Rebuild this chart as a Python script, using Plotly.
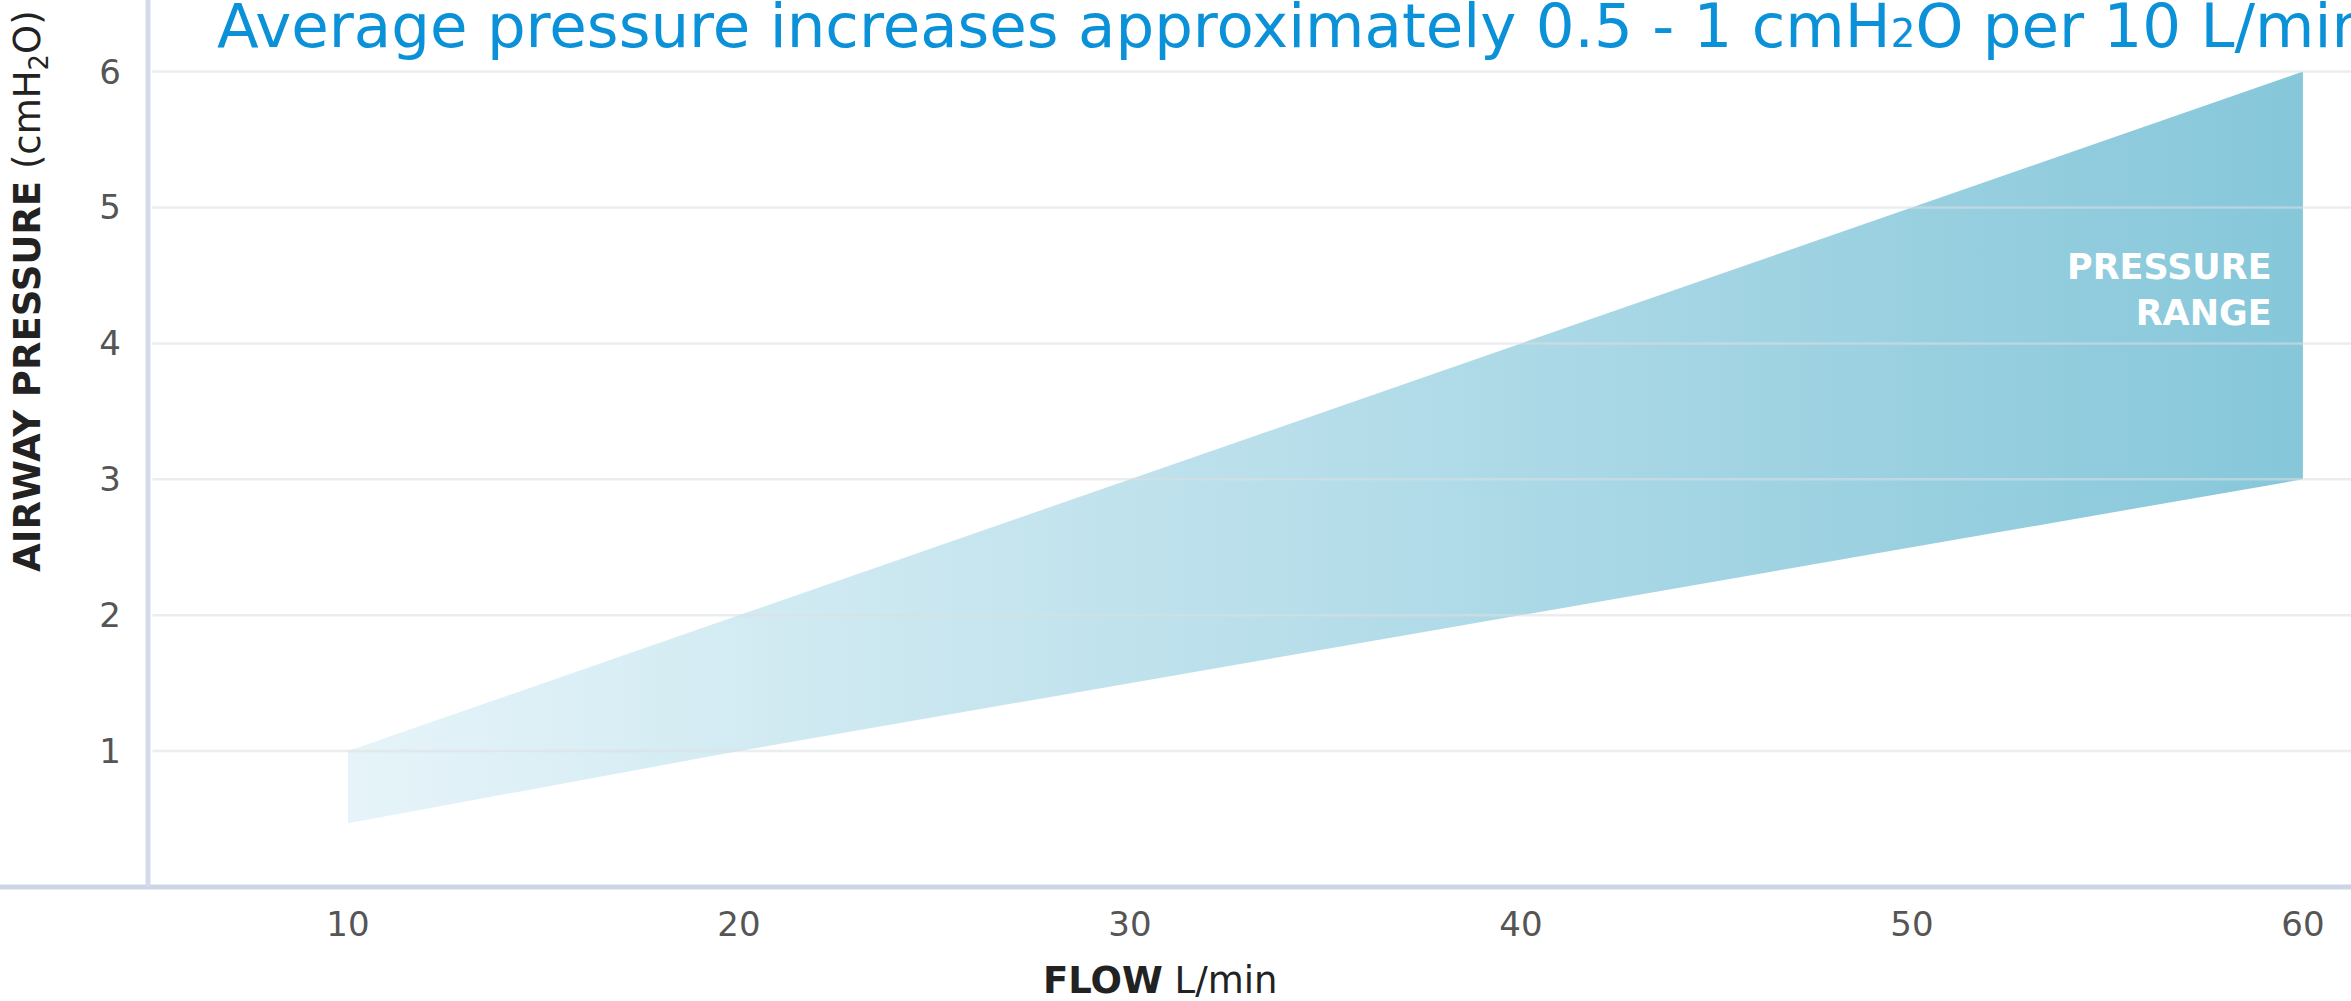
import plotly.graph_objects as go

# Flow rate (L/min) and the airway pressure band (cmH2O) it produces
flow = [10, 20, 30, 40, 50, 60]
pressure_high = [1, 2, 3, 4, 5, 6]
pressure_low = [0.47, 1, 1.5, 2, 2.5, 3]

x_ticks = [10, 20, 30, 40, 50, 60]
y_ticks = [1, 2, 3, 4, 5, 6]

title_text = ("Average pressure increases approximately 0.5 - 1 cmH"
              "<span style='font-size:39px'>2</span>O per 10 L/min")

W, H = 2351, 1001
M_L, M_B = 148, 114

fig = go.Figure()

# Pressure band: upper edge left-to-right, lower edge back right-to-left
fig.add_trace(go.Scatter(
    x=flow + flow[::-1],
    y=pressure_high + pressure_low[::-1],
    mode="lines",
    fill="toself",
    line=dict(width=0),
    fillgradient=dict(type="horizontal",
                      colorscale=[[0, "#e6f4f9"], [1, "#86c7da"]]),
    hoverinfo="skip",
    showlegend=False,
))

# Horizontal guides drawn over the band so they show through it
for v in y_ticks:
    fig.add_shape(type="line", xref="paper", yref="y", x0=0.002, x1=1, y0=v, y1=v,
                  line=dict(color="rgba(220,222,225,0.55)", width=2.5), layer="above")

# Axis lines (the flow axis runs out to the left edge)
fig.add_shape(type="line", xref="paper", yref="paper", x0=-M_L / (W - M_L), x1=1, y0=0, y1=0,
              line=dict(color="#cbd5e6", width=5), layer="above")
fig.add_shape(type="line", xref="paper", yref="paper", x0=0, x1=0, y0=0, y1=1,
              line=dict(color="#d3dae8", width=5), layer="above")

tick_font = dict(family="DejaVu Sans", size=34, color="#555555")

fig.update_xaxes(range=[4.885, 61.23], tickvals=x_ticks, showgrid=False, zeroline=False,
                 showline=False, ticks="", tickfont=tick_font, ticklabelstandoff=14)
fig.update_yaxes(range=[0, 6.527], tickvals=y_ticks, showgrid=False, zeroline=False,
                 showline=False, ticks="", tickfont=tick_font, ticklabelstandoff=26)

fig.add_annotation(text=title_text, xref="paper", yref="paper",
                   x=(215 - M_L) / (W - M_L), y=1.0, xanchor="left", yanchor="top",
                   yshift=12, showarrow=False,
                   font=dict(family="DejaVu Sans", size=61, color="#0a91d8"))

fig.add_annotation(text="<b>AIRWAY PRESSURE</b> (cmH<sub>2</sub>O)", textangle=-90,
                   xref="paper", yref="paper",
                   x=(30 - M_L) / (W - M_L), y=1 - 291 / (H - M_B),
                   xanchor="center", yanchor="middle", showarrow=False,
                   font=dict(family="DejaVu Sans", size=37, color="#222222"))

fig.add_annotation(text="<b>FLOW</b> L/min", xref="paper", yref="paper",
                   x=(1160 - M_L) / (W - M_L), y=(H - M_B - 980) / (H - M_B),
                   xanchor="center", yanchor="middle", showarrow=False,
                   font=dict(family="DejaVu Sans", size=37, color="#222222"))

fig.add_annotation(text="<b>PRESSURE<br>RANGE</b>", x=59.26, y=4.39,
                   xanchor="right", yanchor="middle", align="right", showarrow=False,
                   font=dict(family="DejaVu Sans", size=35, color="#ffffff"))

fig.update_layout(width=W, height=H, margin=dict(l=M_L, r=0, t=0, b=M_B),
                  paper_bgcolor="white", plot_bgcolor="white", showlegend=False)

fig.write_html("out.html")
